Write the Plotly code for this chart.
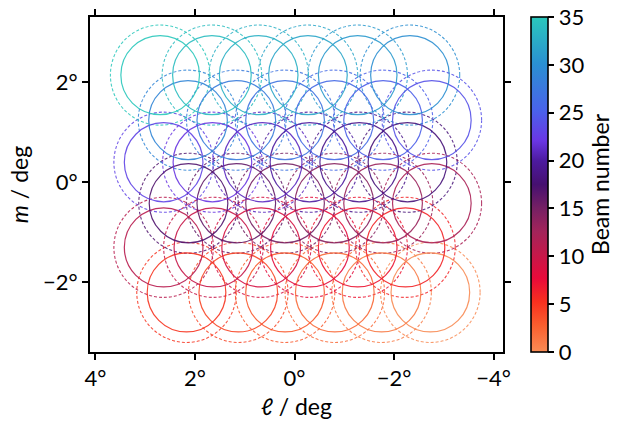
import plotly.graph_objects as go
from plotly.colors import sample_colorscale

# Beam centres (direction cosines, degrees), rows listed bottom to top,
# beams within each row numbered right (negative l) to left.
row_m = [-2.20, -1.30, -0.42, 0.40, 1.24, 2.14]
row_l = [
    [-2.73, -1.75, -0.81, 0.19, 1.13, 2.17],
    [-2.23, -1.27, -0.31, 0.67, 1.63, 2.63],
    [-2.76, -1.78, -0.80, 0.19, 1.17, 2.13],
    [-2.27, -1.30, -0.30, 0.64, 1.65, 2.63],
    [-2.76, -1.78, -0.80, 0.19, 1.17, 2.14],
    [-2.32, -1.27, -0.27, 0.72, 1.66, 2.70],
]
beam_radius_solid = 0.79   # deg, inner beam footprint
beam_radius_dashed = 1.00  # deg, outer beam footprint

x_ticks = [4, 2, 0, -2, -4]
x_tick_text = ["4°", "2°", "0°", "−2°", "−4°"]
y_ticks = [-2, 0, 2]
y_tick_text = ["−2°", "0°", "2°"]
cbar_ticks = [0, 5, 10, 15, 20, 25, 30, 35]

beam_l = [l for row in row_l for l in row]
beam_m = [m for m, row in zip(row_m, row_l) for _ in row]
beam_id = list(range(len(beam_l)))
n_max = 35

scale = [
    [0.00, "#f98c55"],
    [0.08, "#fa5e2e"],
    [0.15, "#f8301f"],
    [0.22, "#e80a3a"],
    [0.30, "#c01a4c"],
    [0.36, "#a2245a"],
    [0.43, "#752064"],
    [0.50, "#461070"],
    [0.57, "#4c1a9e"],
    [0.63, "#6a36e4"],
    [0.72, "#4a62ea"],
    [0.86, "#2a90d2"],
    [1.00, "#2ac8bc"],
]

colors = sample_colorscale(scale, [b / n_max for b in beam_id])

shapes = []
for l, m, c in zip(beam_l, beam_m, colors):
    shapes.append(dict(type="circle", xref="x", yref="y",
                       x0=l - beam_radius_dashed, x1=l + beam_radius_dashed,
                       y0=m - beam_radius_dashed, y1=m + beam_radius_dashed,
                       line=dict(color=c, width=1.1, dash="3px,2px"),
                       opacity=0.85, layer="above"))
for l, m, c in zip(beam_l, beam_m, colors):
    shapes.append(dict(type="circle", xref="x", yref="y",
                       x0=l - beam_radius_solid, x1=l + beam_radius_solid,
                       y0=m - beam_radius_solid, y1=m + beam_radius_solid,
                       line=dict(color=c, width=1.2),
                       opacity=0.9, layer="above"))

font_family = "Lato, 'Open Sans', sans-serif"
tick_size = 22
title_size = 23

fig = go.Figure()
fig.add_trace(go.Scatter(
    x=beam_l, y=beam_m, mode="markers",
    marker=dict(size=0.1, opacity=0, color=beam_id, cmin=0, cmax=n_max,
                colorscale=scale, showscale=True,
                colorbar=dict(
                    x=1.068, xanchor="left", xref="paper",
                    y=0.5, yanchor="middle", len=1.0, lenmode="fraction",
                    thickness=17, outlinewidth=1.6, outlinecolor="black",
                    ticks="outside", ticklen=6, tickwidth=1.5,
                    tickcolor="black", tickvals=cbar_ticks,
                    tickfont=dict(size=tick_size, color="black",
                                  family=font_family),
                    ypad=0, xpad=0,
                    title=dict(text="Beam number", side="right",
                               font=dict(size=title_size, color="black",
                                         family=font_family)),
                )),
    hoverinfo="skip", showlegend=False,
))

axis_common = dict(
    showgrid=False, zeroline=False, showline=True, linewidth=2,
    linecolor="black", mirror="ticks", ticks="outside", ticklen=6,
    tickwidth=2, tickcolor="black",
    tickfont=dict(size=tick_size, color="black", family=font_family),
)

fig.update_layout(
    width=623, height=428,
    margin=dict(l=90, r=120, t=17, b=76, autoexpand=False),
    paper_bgcolor="white", plot_bgcolor="white",
    shapes=shapes,
    xaxis=dict(range=[4.11, -4.19], tickvals=x_ticks, ticktext=x_tick_text,
               title=dict(text="<i>ℓ</i> / deg", standoff=8,
                          font=dict(size=title_size, color="black",
                                    family=font_family)),
               **axis_common),
    yaxis=dict(range=[-3.39, 3.30], tickvals=y_ticks, ticktext=y_tick_text,
               title=dict(text="<i>m</i> / deg", standoff=8,
                          font=dict(size=title_size, color="black",
                                    family=font_family)),
               **axis_common),
    font=dict(family=font_family, color="black"),
)

fig.write_html("out.html")
